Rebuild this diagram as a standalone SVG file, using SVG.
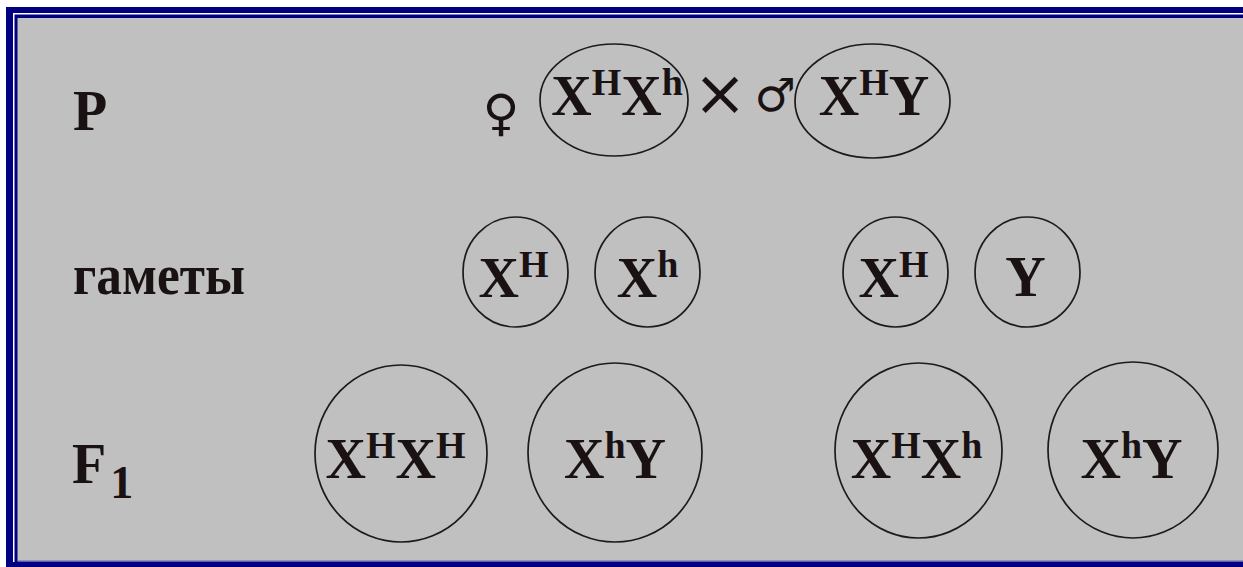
<svg xmlns="http://www.w3.org/2000/svg" width="1243" height="567" viewBox="0 0 1243 567">
<style>
.t{font-family:"Liberation Serif",serif;font-weight:bold;fill:#1a1212;font-size:56px}
.s{font-size:38px}
.c{fill:none;stroke:#1e1a1a;stroke-width:1.7}
.sym{font-family:"DejaVu Sans",sans-serif;fill:#1a1212}
</style>
<rect x="0" y="0" width="1243" height="567" fill="#ffffff"/>
<rect x="6" y="7" width="1237" height="560" fill="#000080"/>
<rect x="13" y="13" width="1230" height="549" fill="#ffffff"/>
<rect x="14.5" y="14.5" width="1228.5" height="548" fill="#000080"/>
<rect x="17.5" y="18" width="1225.5" height="543" fill="#c0c0c0"/>
<line x1="17.5" y1="561" x2="1243" y2="561" stroke="#8080c0" stroke-width="1.5"/>

<g id="labels">
<text class="t" x="73" y="130">P</text>
<text class="t" x="73" y="294" font-size="57" textLength="172" lengthAdjust="spacingAndGlyphs">гаметы</text>
<text class="t" x="72" y="483">F<tspan font-size="46" dx="4" dy="15">1</tspan></text>
</g>

<g id="parents">
<text class="sym" x="501" y="130" font-size="50" text-anchor="middle">♀</text>
<g id="p-female">
<ellipse class="c" cx="614" cy="100" rx="74" ry="56"/>
<text class="t" x="617" y="115" text-anchor="middle">X<tspan class="s" dy="-20">H</tspan><tspan dy="20">X</tspan><tspan class="s" dy="-20">h</tspan></text>
</g>
<text x="720" y="115" font-size="64" text-anchor="middle" font-family="DejaVu Sans,sans-serif" fill="#1a1212">×</text>
<text class="sym" x="775" y="111" font-size="46" text-anchor="middle">♂</text>
<g id="p-male">
<ellipse class="c" cx="872.5" cy="101" rx="77.5" ry="57"/>
<text class="t" x="874" y="115" text-anchor="middle">X<tspan class="s" dy="-20">H</tspan><tspan dy="20">Y</tspan></text>
</g>
</g>

<g id="gametes">
<g id="g1"><ellipse class="c" cx="515.5" cy="272" rx="52.5" ry="55"/>
<text class="t" x="513.5" y="297" text-anchor="middle">X<tspan class="s" dy="-20">H</tspan></text></g>
<g id="g2"><ellipse class="c" cx="647.5" cy="272" rx="52.5" ry="55"/>
<text class="t" x="647.5" y="297" text-anchor="middle">X<tspan class="s" dy="-20">h</tspan></text></g>
<g id="g3"><ellipse class="c" cx="895.5" cy="272" rx="52.5" ry="55"/>
<text class="t" x="893.5" y="297" text-anchor="middle">X<tspan class="s" dy="-20">H</tspan></text></g>
<g id="g4"><ellipse class="c" cx="1027.5" cy="272" rx="52.5" ry="55"/>
<text class="t" x="1025.5" y="296" text-anchor="middle">Y</text></g>
</g>

<g id="offspring">
<g id="f1"><ellipse class="c" cx="401" cy="453.5" rx="86" ry="88.5"/>
<text class="t" x="395.5" y="478" text-anchor="middle">X<tspan class="s" dy="-20">H</tspan><tspan dy="20">X</tspan><tspan class="s" dy="-20">H</tspan></text></g>
<g id="f2"><ellipse class="c" cx="615" cy="452.5" rx="87" ry="89.5"/>
<text class="t" x="615" y="478" text-anchor="middle">X<tspan class="s" dy="-20">h</tspan><tspan dy="20">Y</tspan></text></g>
<g id="f3"><ellipse class="c" cx="918.5" cy="450.5" rx="83.5" ry="87.5"/>
<text class="t" x="916.5" y="478" text-anchor="middle">X<tspan class="s" dy="-20">H</tspan><tspan dy="20">X</tspan><tspan class="s" dy="-20">h</tspan></text></g>
<g id="f4"><ellipse class="c" cx="1133" cy="450" rx="85" ry="88"/>
<text class="t" x="1131.5" y="478" text-anchor="middle">X<tspan class="s" dy="-20">h</tspan><tspan dy="20">Y</tspan></text></g>
</g>

<g id="connectors"></g>
</svg>
